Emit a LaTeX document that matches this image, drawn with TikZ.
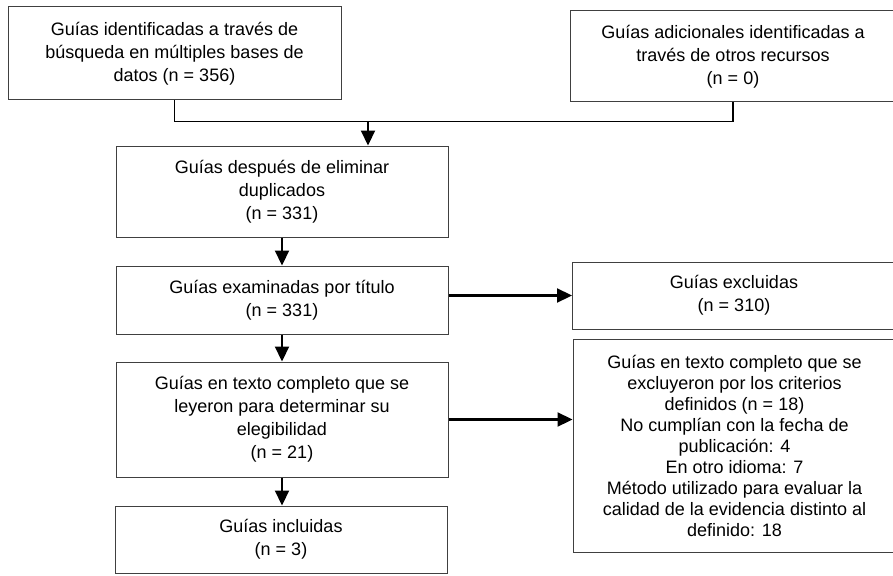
\documentclass[tikz,border=0pt]{standalone}
\usepackage{fontspec}
\setmainfont{Liberation Sans}
\usetikzlibrary{arrows.meta}

\begin{document}
\begin{tikzpicture}[
  x=1pt, y=-1pt,
  >={Triangle[length=15pt, width=14pt]},
  box/.style={draw=black!75, line width=1pt, align=center, inner sep=4pt,
    font=\fontsize{18}{23}\selectfont},
  mainbox/.style={box, minimum width=332pt},
  sidebox/.style={box, minimum width=323pt},
  arr/.style={->, line width=2.2pt},
  link/.style={line width=1.3pt},
]
\useasboundingbox (0,0) rectangle (893,575);

% --- Identification ---
\node[box, minimum width=333pt, minimum height=93pt] (bases) at (174.5,53.5)
  {Guías identificadas a través de\\búsqueda en múltiples bases de\\datos (n = 356)};
\node[box, minimum width=326pt, minimum height=91pt] (otros) at (733,56.5)
  {Guías adicionales identificadas a\\través de otros recursos\\(n = 0)};

% --- Screening (left column) ---
\node[mainbox, minimum height=91pt] (duplicados) at (282,191.5)
  {Guías después de eliminar\\duplicados\\(n = 331)};
\node[mainbox, minimum height=68pt] (titulo) at (282,300)
  {Guías examinadas por título\\(n = 331)};
\node[mainbox, minimum height=115pt] (completo) at (282,419.5)
  {Guías en texto completo que se\\leyeron para determinar su\\elegibilidad\\(n = 21)};
\node[mainbox, minimum height=67pt] (incluidas) at (281,539.5)
  {Guías incluidas\\(n = 3)};

% --- Exclusions (right column) ---
\node[sidebox, minimum height=213pt, font=\fontsize{18}{21}\selectfont] (criterios) at (734.5,445.5)
  {Guías en texto completo que se\\excluyeron por los criterios\\definidos (n = 18)\\No cumplían con la fecha de\\publicación: 4\\En otro idioma: 7\\Método utilizado para evaluar la\\calidad de la evidencia distinto al\\definido: 18};
\node[sidebox, minimum height=67pt] (excluidas) at (734,295.5)
  {Guías excluidas\\(n = 310)};

% --- Connectors ---
\coordinate (merge) at (368,121.5);
\draw[link] (bases.south) -- (bases.south |- merge) -- (otros.south |- merge) -- (otros.south);
\draw[arr] (merge) -- (merge |- duplicados.north);
\draw[arr] (duplicados) -- (titulo);
\draw[arr] (titulo) -- (completo);
\draw[arr] (completo.south) -- (completo.south |- incluidas.north);
\draw[arr] (titulo.east |- excluidas.west) -- (excluidas.west);
\draw[arr] (completo.east) -- (criterios.west |- completo.east);

\end{tikzpicture}
\end{document}
